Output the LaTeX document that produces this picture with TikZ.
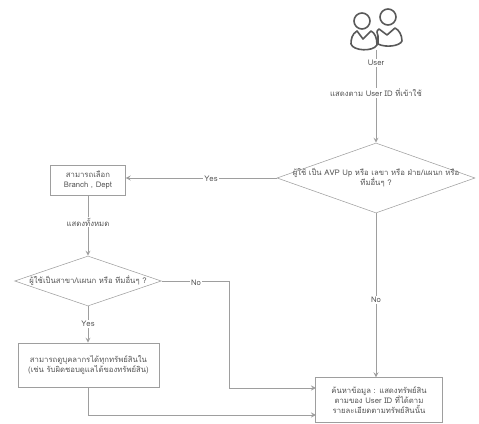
\documentclass[tikz,border=0pt]{standalone}
\usepackage{fontspec}
\setmainfont[Script=Thai]{Loma}
\usepackage{tikz}
\usetikzlibrary{positioning}
\usetikzlibrary{shapes.geometric}
\definecolor{flowline}{gray}{0.62}
\definecolor{flowtext}{gray}{0.33}

\begin{document}
\begin{tikzpicture}[>=stealth, x=0.75pt, y=-0.75pt,
    every node/.style = {font=\fontsize{5.8}{7.6}\selectfont, text=flowtext, align=center},
    box/.style = {draw=flowline, rectangle, fill=white, inner sep=0pt},
    choice/.style = {draw=flowline, diamond, aspect=3.9, fill=white, inner ysep=0pt, inner xsep=-40pt},
    lbl/.style = {fill=white, inner sep=1pt},
    link/.style = {draw=flowline, line width=0.7pt},
    figure/.style = {draw=black!65, line width=1.2pt, line join=round}
    ]
    \useasboundingbox (0,0) rectangle (479,424);

    \node (ask) [choice, minimum width=148.5pt, minimum height=52.5pt] at (376,178) {ผู้ใช้ เป็น AVP Up หรือ เลขา หรือ ฝ่าย/แผนก หรือ\\ทีมอื่นๆ ?};
    \node (pick) [box, minimum width=56pt, minimum height=22.5pt] at (88,180) {สามารถเลือก\\Branch , Dept};
    \node (ask2) [choice, minimum width=110pt, minimum height=37.5pt] at (88,281) {ผู้ใช้เป็นสาขา/แผนก หรือ ทีมอื่นๆ ?};
    \node (own) [box, minimum width=105.5pt, minimum height=33pt] at (88.5,365) {สามารถดูบุคลากรได้ทุกทรัพย์สินใน\\(เช่น รับผิดชอบดูแลได้ของทรัพย์สิน)};
    \node (result) [box, minimum width=95pt, minimum height=33.5pt] at (379,400) {ค้นหาข้อมูล : แสดงทรัพย์สิน\\ตามของ User ID ที่ได้ตาม\\รายละเอียดตามทรัพย์สินนั้น};

    % people
    \draw[figure] (379,29) .. controls (376,31) and (377,33) .. (378,36) .. controls (378,40) and (378,43) .. (378,44) .. controls (386,48) and (400,46) .. (402,41) .. controls (402,35) and (399,30) .. (395,28) -- (387,35) -- cycle;
    \draw[figure] (388,17) circle (8);
    \draw[figure, fill=white] (357,31) .. controls (352,34) and (351,39) .. (351,44) .. controls (353,51) and (373,52) .. (377,45) .. controls (377,38) and (375,33) .. (371,31) -- (363,39) -- cycle;
    \draw[figure] (362,21) circle (8);

    \coordinate (people) at (376,50);
    \coordinate (bendno) at (229,281);
    \coordinate (inno) at (316,388);
    \coordinate (downyes) at (88,415);
    \coordinate (inyes) at (316,415);

    \draw[link, ->] (people) -- (ask.north);
    \draw[link, ->] (ask.west) -- (pick.east |- ask.west);
    \draw[link, ->] (ask.south) -- (ask.south |- result.north);
    \draw[link, ->] (pick.south -| ask2.north) -- (ask2.north);
    \draw[link, ->] (ask2.south) -- (ask2.south |- own.north);
    \draw[link, ->] (ask2.east) -- (bendno) |- (inno);
    \draw[link, ->] (own.south -| downyes) -- (downyes) -- (inyes);

    \node (user) [lbl] at (376,63) {User};
    \node (show) [lbl] at (376,93) {แสดงตาม User ID ที่เข้าใช้};
    \node (yes) [lbl] at (211,179) {Yes};
    \node (no) [lbl] at (376,300) {No};
    \node (all) [lbl] at (88,222) {แสดงทั้งหมด};
    \node (no2) [lbl] at (196,283) {No};
    \node (yes2) [lbl] at (88,324) {Yes};
\end{tikzpicture}
\end{document}
